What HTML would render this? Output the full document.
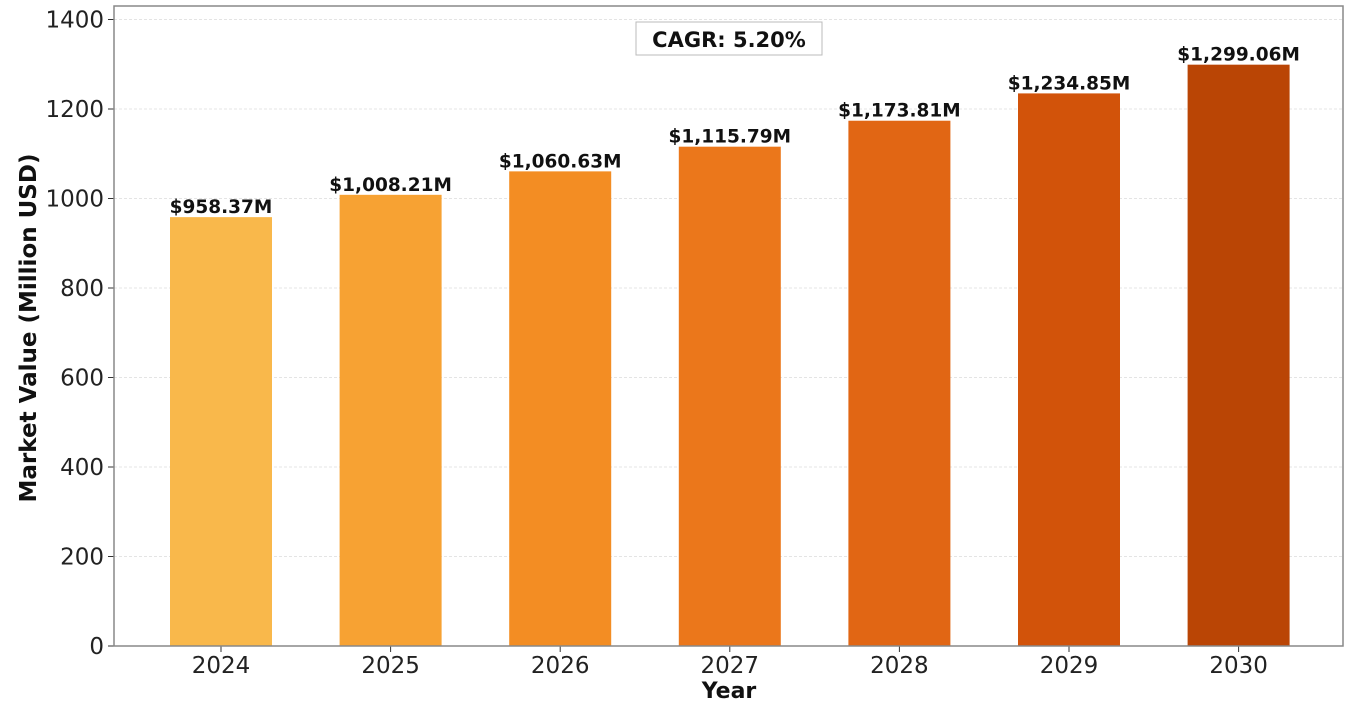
<!DOCTYPE html>
<html><head><meta charset="utf-8"><style>
body{margin:0;background:#fff;width:1350px;height:705px;overflow:hidden}
svg text{font-family:"DejaVu Sans","Liberation Sans",sans-serif}
</style></head><body>
<svg id="chart" width="1350" height="705" xmlns="http://www.w3.org/2000/svg">
<g id="grid"></g><g id="bars"></g><g id="labels"></g><g id="axes"></g>
<rect x="114" y="6" width="1229" height="640" fill="none" stroke="#888" stroke-width="1.5"/>
<g>
<rect x="636" y="22" width="186" height="33" fill="#fff" stroke="#bbb" stroke-width="1"/>
<text x="729" y="47" font-size="21" font-weight="bold" text-anchor="middle" fill="#111">CAGR: 5.20%</text>
</g>
<text x="729" y="698" font-size="22" font-weight="bold" text-anchor="middle" fill="#111">Year</text>
<text transform="translate(36,328) rotate(-90)" font-size="23" font-weight="bold" text-anchor="middle" fill="#111">Market Value (Million USD)</text>
</svg>
<script>
const years=["2024","2025","2026","2027","2028","2029","2030"];
const values=[958.37,1008.21,1060.63,1115.79,1173.81,1234.85,1299.06];
const valueLabels=["$958.37M","$1,008.21M","$1,060.63M","$1,115.79M","$1,173.81M","$1,234.85M","$1,299.06M"];
const yTicks=[0,200,400,600,800,1000,1200,1400];
const colors=["#F9B84B","#F7A233","#F38D23","#EB771B","#E16614","#D2530A","#BA4505"];
const NS="http://www.w3.org/2000/svg";
const y=v=>646-v*0.4475;
const xc=i=>221+i*169.6;
const bw=102;
function mk(t,a){const e=document.createElementNS(NS,t);for(const k in a)e.setAttribute(k,a[k]);return e;}
const grid=document.getElementById('grid'),bars=document.getElementById('bars'),labels=document.getElementById('labels'),axes=document.getElementById('axes');
yTicks.forEach(t=>{
  if(t>0){const l=mk('line',{x1:114,x2:1343,y1:y(t),y2:y(t),stroke:'#e4e4e4','stroke-dasharray':'3,2'});
  
  
  grid.appendChild(l);}
  const tk=mk('line',{x1:108,x2:114,y1:y(t),y2:y(t),stroke:'#333'});
  
  
  axes.appendChild(tk);
  const tx=mk('text',{x:104,y:y(t)+8,'font-size':23,'text-anchor':'end',fill:'#222'});
  tx.textContent=t;
  
  
  axes.appendChild(tx);
});
years.forEach((yr,i)=>{
  const r=mk('rect',{x:xc(i)-bw/2,y:y(values[i]),width:bw,height:646-y(values[i]),fill:colors[i]});
  
  
  bars.appendChild(r);
  const lb=mk('text',{x:xc(i),y:y(values[i])-4,'font-size':18.5,'font-weight':'bold','text-anchor':'middle',fill:'#111'});
  lb.textContent=valueLabels[i];
  
  
  labels.appendChild(lb);
  const tk=mk('line',{x1:xc(i),x2:xc(i),y1:646,y2:652,stroke:'#333'});
  
  
  axes.appendChild(tk);
  const tx=mk('text',{x:xc(i),y:673,'font-size':23,'text-anchor':'middle',fill:'#222'});
  tx.textContent=yr;
  
  
  axes.appendChild(tx);
});
</script>
</body></html>
